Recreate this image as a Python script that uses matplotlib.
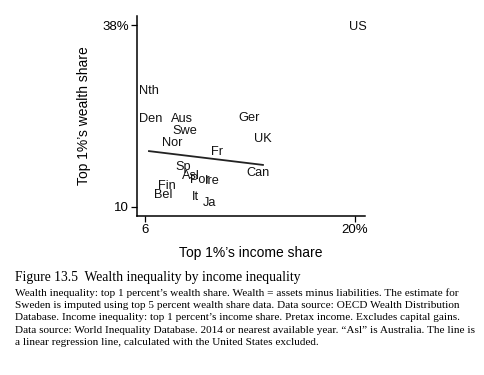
import numpy as np
import matplotlib
matplotlib.use('Agg')
import matplotlib.pyplot as plt

# country labels, placed at (income share, wealth share)
countries = ['US', 'Nth', 'Den', 'Aus', 'Swe', 'Nor', 'Ger', 'UK', 'Fr', 'Can',
             'Sp', 'Asl', 'Por', 'Ire', 'Fin', 'Bel', 'It', 'Ja']
income_share = [20.2, 6.27, 6.4, 8.47, 8.67, 7.8, 12.93, 13.87, 10.8, 13.53,
                8.53, 9.07, 9.67, 10.47, 7.47, 7.2, 9.4, 10.33]
wealth_share = [37.7, 27.8, 23.5, 23.5, 21.7, 19.85, 23.7, 20.5, 18.5, 15.2,
                16.2, 14.8, 14.15, 14.0, 13.2, 11.85, 11.5, 10.6]

# regression line (US excluded)
fit_intercept = 18.6   # value at the lowest non-US income share
fit_slope = -0.28

xticks = [6, 20]
xticklabels = ['6', '20%']
yticks = [10, 38]
yticklabels = ['10', '38%']

caption_title = 'Figure 13.5  Wealth inequality by income inequality'
caption_lines = [
    'Wealth inequality: top 1 percent\u2019s wealth share. Wealth = assets minus liabilities. The estimate for',
    'Sweden is imputed using top 5 percent wealth share data. Data source: OECD Wealth Distribution',
    'Database. Income inequality: top 1 percent\u2019s income share. Pretax income. Excludes capital gains.',
    'Data source: World Inequality Database. 2014 or nearest available year. \u201cAsl\u201d is Australia. The line is',
    'a linear regression line, calculated with the United States excluded.',
]

plt.rcParams['font.family'] = ['Liberation Sans', 'DejaVu Sans']

fig = plt.figure(figsize=(4.84, 3.75), dpi=100)
ax = fig.add_axes([0.283, 0.424, 0.471, 0.533])

for name, x, y in zip(countries, income_share, wealth_share):
    ax.text(x, y, name, ha='center', va='center', fontsize=9.2, color='#111111')

xs = np.array(income_share[1:])
line_x = np.array([xs.min(), xs.max()])
line_y = fit_intercept + fit_slope * (line_x - xs.min())
ax.plot(line_x, line_y, color='#222222', lw=1.3)

ax.set_xlim(5.47, 20.67)
ax.set_ylim(8.6, 39.4)
ax.set_xticks(xticks)
ax.set_xticklabels(xticklabels)
ax.set_yticks(yticks)
ax.set_yticklabels(yticklabels)
ax.tick_params(direction='out', length=4.5, width=0.9, labelsize=9.5, pad=1.5)
ax.spines['top'].set_visible(False)
ax.spines['right'].set_visible(False)
for s in ['left', 'bottom']:
    ax.spines[s].set_linewidth(1.1)
ax.set_xlabel('Top 1%\u2019s income share', fontsize=10, labelpad=7)
ax.set_ylabel('Top 1%\u2019s wealth share', fontsize=10, labelpad=8)

fig.text(15 / 484, 1 - 277 / 375, caption_title, family='Liberation Serif',
         fontsize=9.8, va='center', ha='left')
fig.text(15 / 484, 1 - 288 / 375, '\n'.join(caption_lines), family='Liberation Serif',
         fontsize=8.15, va='top', ha='left', linespacing=1.48)

fig.savefig('out.png', dpi=100)
